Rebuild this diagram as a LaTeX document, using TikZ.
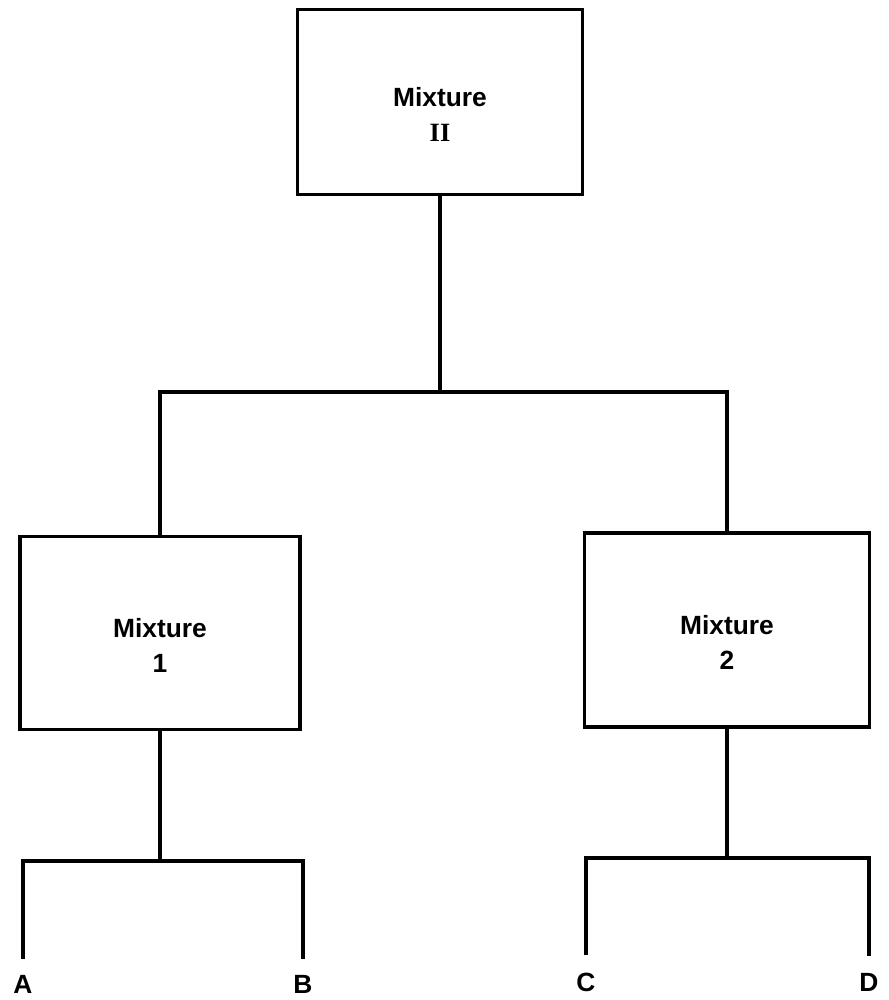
\documentclass[tikz,border=0pt]{standalone}
\usepackage{fontspec}
\setmainfont{Liberation Sans}
\newfontfamily\numeralfont{Liberation Serif}
\usetikzlibrary{positioning}

\tikzset{
    mixbox/.style={draw, line width=1.8pt, align=center, inner sep=0pt,
        text height=1.58cm, font=\fontsize{15}{20}\selectfont\bfseries},
    link/.style={line width=1.8pt},
    leaf/.style={font=\fontsize{15}{18}\selectfont\bfseries, inner sep=0pt}
}

\begin{document}
\begin{tikzpicture}
    \useasboundingbox (0,0) rectangle (17.78,20);

    % Mixture boxes
    \node[mixbox, minimum width=5.7cm, minimum height=3.7cm] (mixII) at (8.8,17.96)
        {Mixture\\{\numeralfont II}};
    \node[mixbox, minimum width=5.6cm, minimum height=3.86cm] (mix1) at (3.2,7.34)
        {Mixture\\1};
    \node[mixbox, minimum width=5.7cm, minimum height=3.88cm] (mix2) at (14.54,7.4)
        {Mixture\\2};

    % Components
    \node[leaf] (compA) at (0.46,0.32) {A};
    \node[leaf] (compB) at (6.06,0.32) {B};
    \node[leaf] (compC) at (11.72,0.36) {C};
    \node[leaf] (compD) at (17.38,0.36) {D};

    % Branch points
    \coordinate (split) at (8.8,12.16);
    \coordinate (fork1) at (3.2,2.78);
    \coordinate (fork2) at (14.54,2.84);

    % Upper tree
    \draw[link] (mixII.south) -- (split);
    \draw[link] (mix1.north) |- (split) -| (mix2.north);

    % Lower forks
    \draw[link] (mix1.south) -- (fork1);
    \draw[link, shorten <=0.32cm, shorten >=0.32cm] (compA.north) |- (fork1) -| (compB.north);
    \draw[link] (mix2.south) -- (fork2);
    \draw[link, shorten <=0.34cm, shorten >=0.34cm] (compC.north) |- (fork2) -| (compD.north);
\end{tikzpicture}
\end{document}
